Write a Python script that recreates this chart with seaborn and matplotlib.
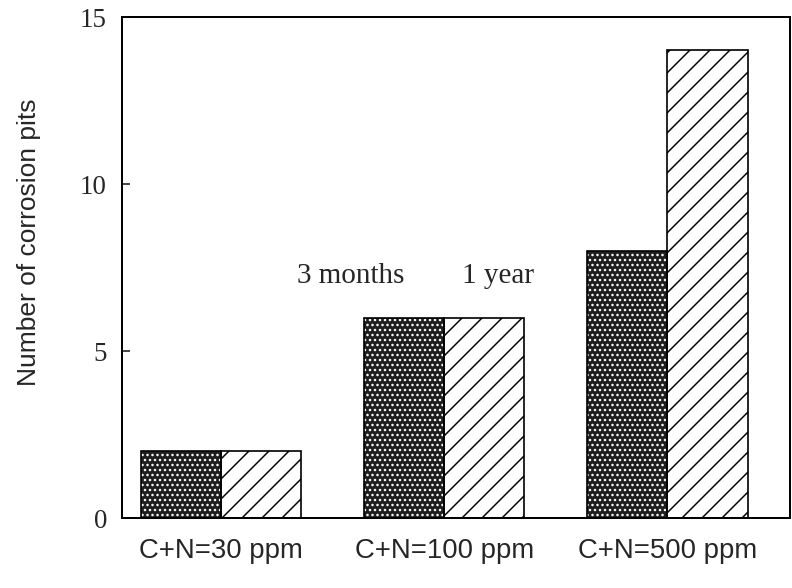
import matplotlib
matplotlib.use("Agg")
import matplotlib.pyplot as plt
from matplotlib.patches import Rectangle
import pandas as pd
import seaborn as sns

# Pit counts per C+N content for the two exposure periods
compositions = ["C+N=30 ppm", "C+N=100 ppm", "C+N=500 ppm"]
periods = ["3 months", "1 year"]
pits_3_months = [2, 6, 8]
pits_1_year = [2, 6, 14]
y_ticks = [0, 5, 10, 15]

df = pd.DataFrame({
    "composition": compositions * 2,
    "period": [periods[0]] * 3 + [periods[1]] * 3,
    "pits": pits_3_months + pits_1_year,
})

sns.set_theme(style="white")
plt.rcParams["font.family"] = ["Liberation Sans", "DejaVu Sans"]
plt.rcParams["hatch.linewidth"] = 0.9

DPI = 120
fig = plt.figure(figsize=(792 / DPI, 588 / DPI), dpi=DPI)
ax = fig.add_axes([0.154, 0.119, 0.8435, 0.852])

sns.barplot(
    data=df, x="composition", y="pits", hue="period",
    palette={"3 months": "#1e1e1e", "1 year": "white"},
    width=0.72, edgecolor="black", linewidth=1.0, legend=False, ax=ax,
)

# speckled fill for the short exposure: white dots on near-black,
# with a black outline drawn on top of each bar
for bar in ax.containers[0]:
    bar.set_edgecolor("white")
    bar.set_linewidth(0)
    bar.set_hatch("....")
    ax.add_patch(Rectangle(bar.get_xy(), bar.get_width(), bar.get_height(),
                           fill=False, edgecolor="black", linewidth=1.0,
                           zorder=bar.get_zorder() + 0.1))
# diagonal hatch for the long exposure
for bar in ax.containers[1]:
    bar.set_hatch("//")

ax.set_xlim(-0.444, 2.55)
ax.set_ylim(0, 15)
ax.set_yticks(y_ticks)
ax.set_yticklabels([str(t) for t in y_ticks], family="Liberation Serif", fontsize=16.1)
ax.tick_params(axis="y", direction="in", length=4.5, width=1.0, pad=9, left=True)
ax.tick_params(axis="x", length=0, pad=12, labelsize=16.5)
ax.set_xlabel("")
ax.set_ylabel("Number of corrosion pits", fontsize=15.8)
ax.yaxis.set_label_coords(-0.121, 0.551)

for side in ["left", "right", "top", "bottom"]:
    ax.spines[side].set_visible(True)
    ax.spines[side].set_color("black")
    ax.spines[side].set_linewidth(1.2)

# period labels above the middle group
ax.text(0.583, 7.04, periods[0], ha="center", va="baseline",
        family="Liberation Serif", fontsize=17.5)
ax.text(1.24, 7.04, periods[1], ha="center", va="baseline",
        family="Liberation Serif", fontsize=17.5)

fig.savefig("out.png", dpi=DPI, facecolor="white")
